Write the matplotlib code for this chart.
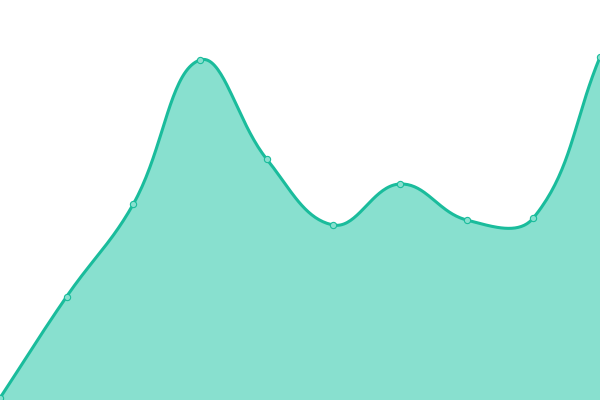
import numpy as np
import matplotlib.pyplot as plt

labels = ['1', '2', '3', '4', '5', '6', '7', '8', '9', '10']
values = [2, 103.5, 196, 340, 241, 175, 216, 180, 182, 343]

line_color = '#1abc9c'
fill_color = '#88e0cf'

n = len(values)
x = np.arange(n) * 600.0 / (n - 1)
y = np.array(values, dtype=float)

# bezier smoothing (tension 0.4), control points from neighbouring points
def spline(x, y, t=0.4):
    px, py = [], []
    m = len(x)
    for i in range(m - 1):
        def ctrl(j):
            p0 = (x[max(j - 1, 0)], y[max(j - 1, 0)])
            p1 = (x[j], y[j])
            p2 = (x[min(j + 1, m - 1)], y[min(j + 1, m - 1)])
            d01 = np.hypot(p1[0] - p0[0], p1[1] - p0[1])
            d12 = np.hypot(p2[0] - p1[0], p2[1] - p1[1])
            s = d01 + d12
            fa = t * d01 / s if s else 0
            fb = t * d12 / s if s else 0
            prev = (p1[0] - fa * (p2[0] - p0[0]), p1[1] - fa * (p2[1] - p0[1]))
            nxt = (p1[0] + fb * (p2[0] - p0[0]), p1[1] + fb * (p2[1] - p0[1]))
            return prev, nxt
        _, c1 = ctrl(i)
        c2, _ = ctrl(i + 1)
        u = np.linspace(0, 1, 40)
        bx = (1-u)**3*x[i] + 3*(1-u)**2*u*c1[0] + 3*(1-u)*u**2*c2[0] + u**3*x[i+1]
        by = (1-u)**3*y[i] + 3*(1-u)**2*u*c1[1] + 3*(1-u)*u**2*c2[1] + u**3*y[i+1]
        px.extend(bx)
        py.extend(by)
    return np.array(px), np.array(py)

sx, sy = spline(x, y)

fig = plt.figure(figsize=(6, 4), dpi=100)
ax = fig.add_axes([0, 0, 1, 1])
ax.fill_between(sx, 0, sy, color=fill_color, lw=0)
ax.plot(sx, sy, color=line_color, lw=2.2, solid_capstyle='round')
ax.plot(x, y, 'o', ms=4.5, mfc=fill_color, mec=line_color, mew=0.8, clip_on=False)
ax.set_xlim(0, 600)
ax.set_ylim(0, 400)
ax.axis('off')
fig.savefig('out.png', dpi=100)
